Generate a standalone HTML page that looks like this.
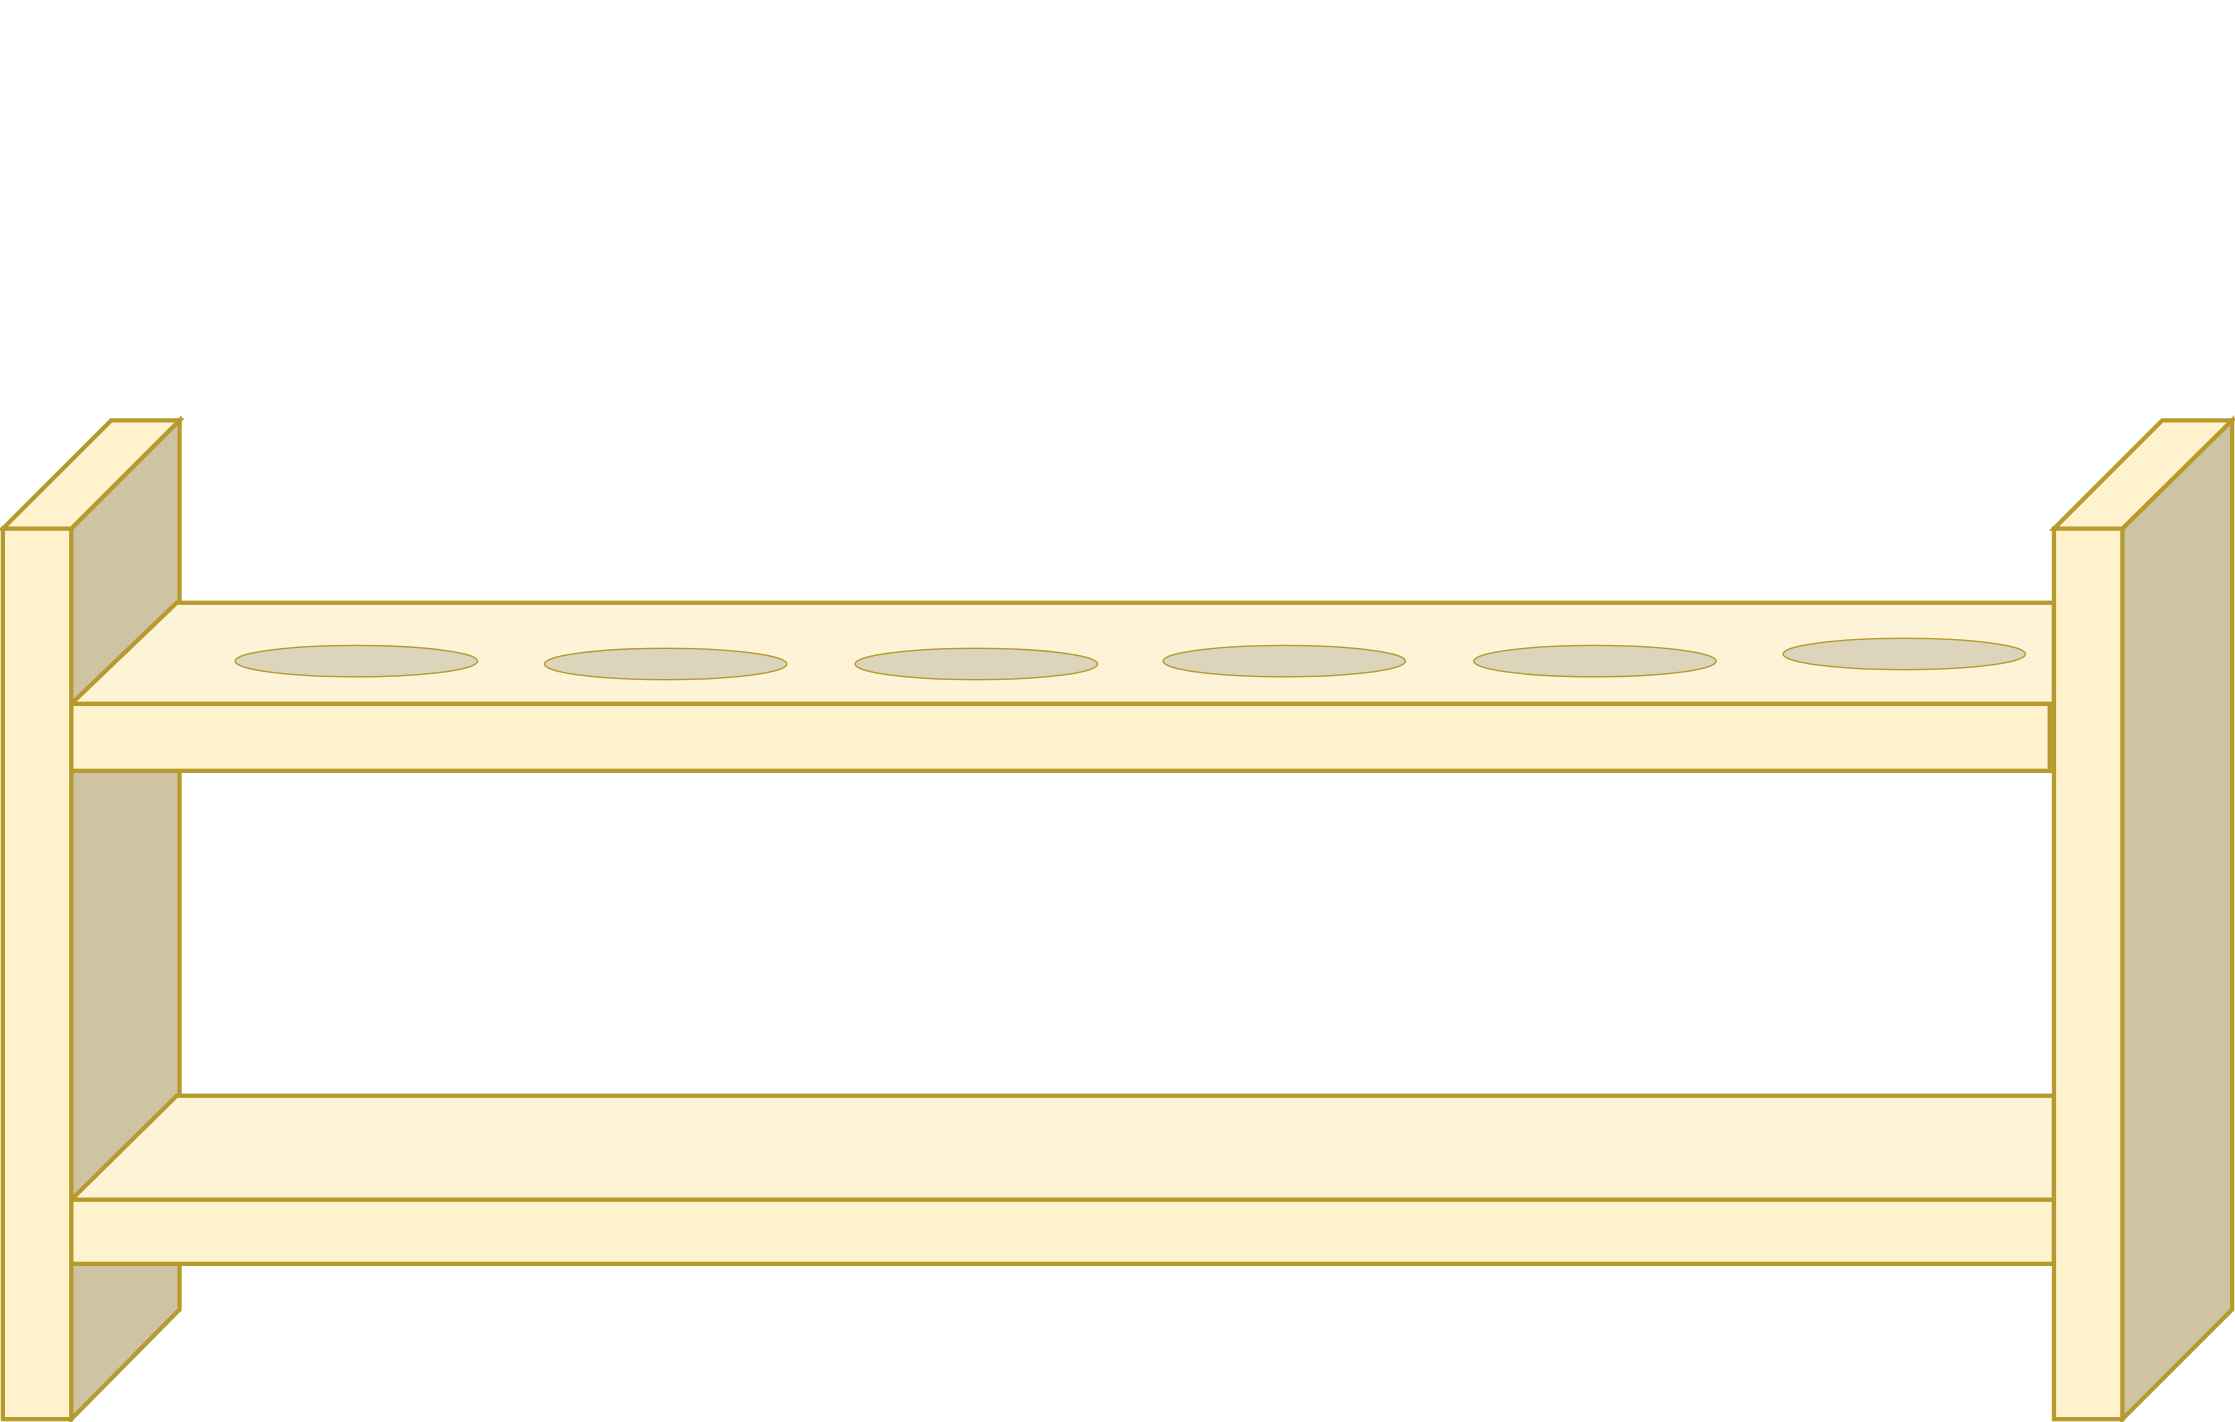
<!DOCTYPE html>
<html><head><meta charset="utf-8"><style>html,body{margin:0;padding:0;background:#fff;}svg{display:block;}</style></head>
<body>
<svg width="2235" height="1422" viewBox="0 0 1568 998" preserveAspectRatio="none" xmlns="http://www.w3.org/2000/svg">
<g stroke="#b59a2d" stroke-width="3" stroke-linejoin="miter">
<!-- left post side & top -->
<polygon points="50,371 126,295 126,919 50,996" fill="#cfc3a3"/>
<polygon points="2,371 78,295 126,295 50,371" fill="#fff2cc"/>
<!-- top shelf -->
<polygon points="50,494 124,423 1441,423 1441,494" fill="#fef3d6"/>
<rect x="50" y="494" width="1388" height="47" fill="#fff2cc"/>
<!-- bottom shelf -->
<polygon points="50,842 124,769 1441,769 1441,842" fill="#fef3d6"/>
<rect x="50" y="842" width="1391" height="45" fill="#fff2cc"/>
<!-- right post -->
<polygon points="1489,371 1566,295 1566,919 1489,996" fill="#cfc3a3"/>
<polygon points="1441,371 1517,295 1566,295 1489,371" fill="#fff2cc"/>
<rect x="1441" y="371" width="48" height="625" fill="#fff2cc"/>
<!-- left post front -->
<rect x="2" y="371" width="48" height="625" fill="#fff2cc"/>
</g>
<g stroke="#b59a2d" stroke-width="1" fill="#ddd5bb">
<ellipse cx="250" cy="464" rx="85" ry="11"/>
<ellipse cx="467" cy="466" rx="85" ry="11"/>
<ellipse cx="685" cy="466" rx="85" ry="11"/>
<ellipse cx="901" cy="464" rx="85" ry="11"/>
<ellipse cx="1119" cy="464" rx="85" ry="11"/>
<ellipse cx="1336" cy="459" rx="85" ry="11"/>
</g>
</svg>
</body></html>
